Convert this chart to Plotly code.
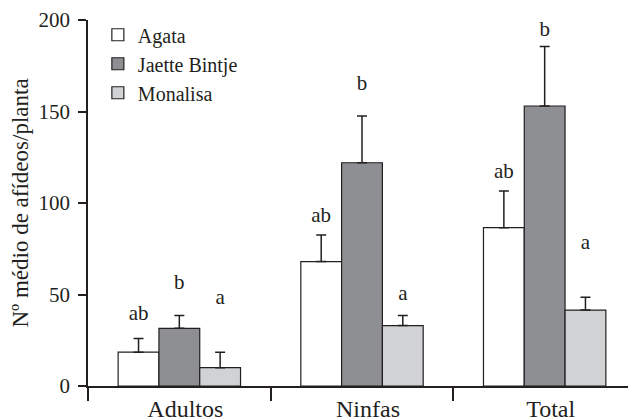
import plotly.graph_objects as go

categories = ["Adultos", "Ninfas", "Total"]
series_names = ["Agata", "Jaette Bintje", "Monalisa"]
agata = [18.5, 68, 86.5]
jaette = [31.5, 122, 153]
monalisa = [10, 33, 41.5]
agata_err = [7.5, 14.5, 20]
jaette_err = [7, 25.5, 32.5]
monalisa_err = [8.5, 5.5, 7]
agata_letters = ["ab", "ab", "ab"]
jaette_letters = ["b", "b", "b"]
monalisa_letters = ["a", "a", "a"]
agata_letter_y = [39, 92.5, 116.5]
jaette_letter_y = [56, 164.5, 194]
monalisa_letter_y = [47.5, 50, 78]
y_ticks = [0, 50, 100, 150, 200]

colors = ["#ffffff", "#8e8f92", "#d1d2d4"]
ink = "#231f20"
font = "Liberation Serif"

values = [agata, jaette, monalisa]
errs = [agata_err, jaette_err, monalisa_err]
letters = [agata_letters, jaette_letters, monalisa_letters]
letter_y = [agata_letter_y, jaette_letter_y, monalisa_letter_y]

fig = go.Figure()
for i, name in enumerate(series_names):
    fig.add_trace(go.Bar(
        x=categories, y=values[i], name=name, offsetgroup=str(i),
        marker=dict(color=colors[i], line=dict(color=ink, width=1.2)),
        error_y=dict(type="data", array=errs[i], arrayminus=[0] * len(categories),
                     symmetric=False, color=ink, thickness=1.5, width=5),
    ))
for i, name in enumerate(series_names):
    fig.add_trace(go.Scatter(
        x=categories, y=letter_y[i], text=letters[i], mode="text",
        offsetgroup=str(i), showlegend=False, hoverinfo="skip",
        textposition="middle center", cliponaxis=False,
        textfont=dict(family=font, size=21, color=ink),
    ))
# invisible trace on a twin axis, only to carry the category-boundary ticks
fig.add_trace(go.Scatter(x=categories, y=[None] * 3, xaxis="x2", showlegend=False,
                         hoverinfo="skip", mode="markers"))

fig.update_layout(
    width=636, height=420,
    margin=dict(l=80, r=8, t=12, b=42, autoexpand=False),
    paper_bgcolor="white", plot_bgcolor="white",
    barmode="group", scattermode="group", bargap=0.33, bargroupgap=0,
    font=dict(family=font, size=21, color=ink),
    showlegend=True,
    legend=dict(x=0.018, y=1.013, xanchor="left", yanchor="top",
                bgcolor="rgba(0,0,0,0)", font=dict(family=font, size=20),
                tracegroupgap=0, itemwidth=30),
    xaxis=dict(type="category", range=[-0.5, 2.5], showline=True, linecolor=ink,
               linewidth=1.5, ticks="", showgrid=False, zeroline=False,
               automargin=False,
               tickfont=dict(family=font, size=24), ticklabelstandoff=0,
               ticklabelshift=6),
    xaxis2=dict(type="category", range=[-0.5, 2.5], overlaying="x", side="bottom",
                showline=False, ticks="outside", tickson="boundaries", ticklen=14,
                tickwidth=1.5, tickcolor=ink, showticklabels=False,
                showgrid=False, zeroline=False, automargin=False),
    yaxis=dict(range=[0, 200], tickvals=y_ticks, showline=True, linecolor=ink,
               linewidth=1.5, ticks="outside", ticklen=8, tickwidth=1.5,
               tickcolor=ink, showgrid=False, zeroline=False, automargin=False,
               tickfont=dict(family=font, size=21), ticklabelstandoff=4,
               title=dict(text="Nº médio de afídeos/planta", standoff=12,
                          font=dict(family=font, size=23))),
)

fig.write_html("out.html")
